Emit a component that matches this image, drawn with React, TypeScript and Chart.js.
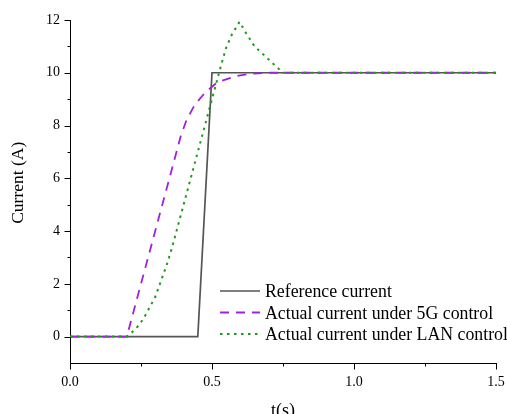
import React, { useEffect, useRef } from "react";
import { Chart, registerables } from "chart.js";

Chart.register(...registerables);

// ---- data ----
const seriesLabels = [
  "Reference current",
  "Actual current under 5G control",
  "Actual current under LAN control",
];

const refTime = [0, 0.45, 0.5, 1.5];
const refCurrent = [0, 0, 10, 10];

const g5Time = [0, 0.2, 0.25, 0.3, 0.35, 0.39, 0.41, 0.44, 0.475, 0.52, 0.585, 0.64, 0.7, 1.5];
const g5Current = [0, 0, 2.0, 4.0, 6.0, 7.6, 8.2, 8.8, 9.24, 9.65, 9.87, 9.97, 10, 10];

const lanTime = [
  0, 0.2, 0.22, 0.24, 0.26, 0.28, 0.3, 0.32, 0.34, 0.36, 0.38, 0.4, 0.42, 0.45, 0.48, 0.51,
  0.535, 0.55, 0.57, 0.597, 0.62, 0.65, 0.69, 0.73, 0.75, 1.5,
];
const lanCurrent = [
  0, 0, 0.18, 0.4, 0.7, 1.1, 1.5, 2.1, 2.7, 3.4, 4.2, 5.0, 5.8, 7.0, 8.2, 9.4,
  10.4, 10.95, 11.45, 11.93, 11.5, 11.0, 10.6, 10.2, 10.0, 10.0,
];

const xTickLabels = ["0.0", "0.5", "1.0", "1.5"];
const yTickLabels = ["0", "2", "4", "6", "8", "10", "12"];

const zip = (xs: number[], ys: number[]) => xs.map((x, i) => ({ x, y: ys[i] }));

const FONT = '"Liberation Serif", "Times New Roman", serif';

const legendPlugin = {
  id: "insideLegend",
  afterDraw(chart: any, _args: any, opts: any) {
    const ctx = chart.ctx;
    ctx.save();
    chart.data.datasets.forEach((ds: any, i: number) => {
      const y = opts.top + i * opts.rowGap;
      ctx.beginPath();
      ctx.setLineDash(ds.borderDash || []);
      ctx.strokeStyle = ds.borderColor;
      ctx.lineWidth = ds.borderWidth;
      ctx.moveTo(opts.x0, y);
      ctx.lineTo(opts.x1, y);
      ctx.stroke();
      ctx.setLineDash([]);
      ctx.fillStyle = "#000";
      ctx.font = `${opts.fontSize}px ${FONT}`;
      ctx.textAlign = "left";
      ctx.textBaseline = "alphabetic";
      ctx.fillText(ds.label, opts.textX, y + opts.baselineOffset);
    });
    ctx.restore();
  },
};

const ticksPlugin = {
  id: "axisTicks",
  afterDraw(chart: any) {
    const ctx = chart.ctx;
    const xs = chart.scales.x;
    const ys = chart.scales.y;
    const area = chart.chartArea;
    ctx.save();
    ctx.strokeStyle = "#000";
    ctx.lineWidth = 1;
    ys.ticks.forEach((t: any) => {
      if (t.value < 0) return;
      const py = Math.round(ys.getPixelForValue(t.value)) + 0.5;
      const len = t.value % 2 === 0 ? 6 : 3;
      ctx.beginPath();
      ctx.moveTo(Math.round(area.left) + 0.5 - len, py);
      ctx.lineTo(Math.round(area.left) + 0.5, py);
      ctx.stroke();
    });
    xs.ticks.forEach((t: any) => {
      const px = Math.round(xs.getPixelForValue(t.value)) + 0.5;
      const r = t.value / 0.5;
      const len = Math.abs(r - Math.round(r)) < 1e-6 ? 6 : 3;
      ctx.beginPath();
      ctx.moveTo(px, Math.round(area.bottom) + 0.5);
      ctx.lineTo(px, Math.round(area.bottom) + 0.5 + len);
      ctx.stroke();
    });
    ctx.restore();
  },
};

export default function App() {
  const ref = useRef<HTMLCanvasElement | null>(null);

  useEffect(() => {
    document.body.style.margin = "0";
    if (!ref.current) return;
    const chart = new Chart(ref.current, {
      type: "line",
      data: {
        datasets: [
          {
            label: seriesLabels[0],
            data: zip(refTime, refCurrent),
            borderColor: "#555555",
            borderWidth: 1.7,
            pointRadius: 0,
            tension: 0,
            order: 2,
          },
          {
            label: seriesLabels[1],
            data: zip(g5Time, g5Current),
            borderColor: "#A020E0",
            borderWidth: 1.8,
            borderDash: [9, 7],
            pointRadius: 0,
            tension: 0,
            order: 1,
          },
          {
            label: seriesLabels[2],
            data: zip(lanTime, lanCurrent),
            borderColor: "#1E9A1E",
            borderWidth: 2,
            borderDash: [2.5, 4.5],
            pointRadius: 0,
            tension: 0,
            order: 0,
          },
        ] as any,
      },
      options: {
        animation: false,
        responsive: true,
        maintainAspectRatio: false,
        layout: { padding: { top: 20, right: 11, left: 0, bottom: 0 } },
        plugins: {
          legend: { display: false },
          tooltip: { enabled: false },
          insideLegend: {
            x0: 220,
            x1: 260,
            textX: 265,
            top: 291,
            rowGap: 21.5,
            baselineOffset: 6.3,
            fontSize: 17.8,
          },
        } as any,
        scales: {
          x: {
            type: "linear",
            min: 0,
            max: 1.5,
            grid: { display: true, drawOnChartArea: false, drawTicks: false },
            border: { display: true, color: "#000", width: 1 },
            ticks: {
              stepSize: 0.25,
              autoSkip: false,
              maxRotation: 0,
              padding: 11,
              color: "#000",
              font: { family: FONT, size: 14 },
              callback: (v: any) => {
                const idx = xTickLabels.findIndex((s) => Math.abs(parseFloat(s) - Number(v)) < 1e-6);
                return idx >= 0 ? xTickLabels[idx] : "";
              },
            },
            title: {
              display: true,
              text: "t(s)",
              color: "#000",
              font: { family: FONT, size: 18 },
              padding: { top: 0, bottom: -8 },
            },
            afterFit: (s: any) => {
              s.height = 51;
              s.paddingLeft = 0;
              s.paddingRight = 0;
            },
          },
          y: {
            type: "linear",
            min: -1,
            max: 12,
            grid: { display: true, drawOnChartArea: false, drawTicks: false },
            border: { display: true, color: "#000", width: 1 },
            ticks: {
              stepSize: 1,
              autoSkip: false,
              padding: 10,
              color: "#000",
              font: { family: FONT, size: 14 },
              callback: (v: any) => {
                const s = String(v);
                return yTickLabels.includes(s) ? s : "";
              },
            },
            title: {
              display: true,
              text: "\u00A0\u00A0\u00A0\u00A0Current (A)",
              color: "#000",
              font: { family: FONT, size: 17.5 },
              padding: { top: 7.7, bottom: 0 },
            },
            afterFit: (s: any) => {
              s.width = 70;
              s.paddingTop = 0;
              s.paddingBottom = 0;
            },
          },
        },
      },
      plugins: [legendPlugin, ticksPlugin],
    });
    return () => chart.destroy();
  }, []);

  return (
    <div style={{ width: 507, height: 414, position: "relative" }}>
      <canvas ref={ref} />
    </div>
  );
}
